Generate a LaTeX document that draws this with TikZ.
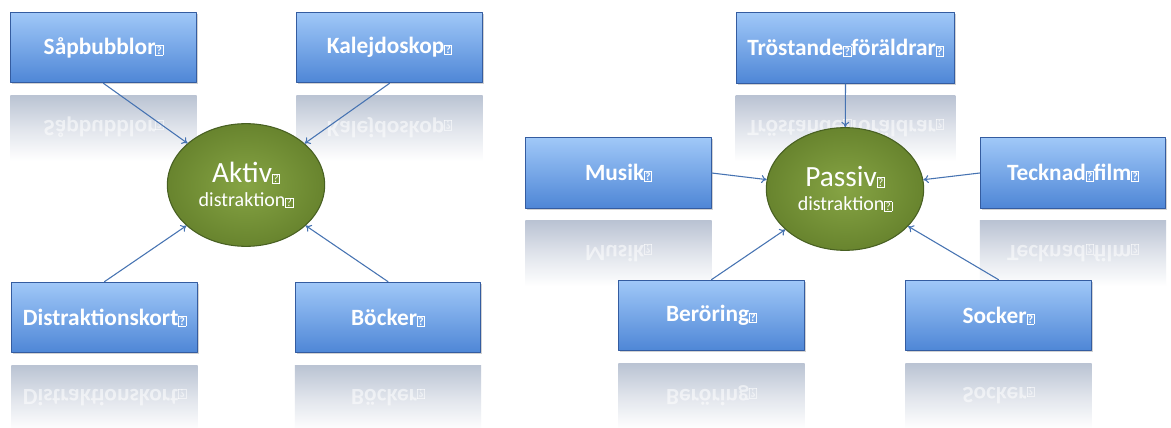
\documentclass[tikz,border=0pt]{standalone}
\usepackage{fontspec}
\setmainfont{Carlito}
\usetikzlibrary{shapes.geometric,arrows.meta,shadows,backgrounds}
\definecolor{boxtop}{RGB}{160,200,248}
\definecolor{boxbot}{RGB}{78,134,214}
\definecolor{boxline}{RGB}{52,92,160}
\definecolor{ovalin}{RGB}{134,164,68}
\definecolor{ovalout}{RGB}{104,132,46}
\definecolor{ovalline}{RGB}{72,96,34}
\definecolor{arrcol}{RGB}{70,115,178}
\definecolor{reflgray}{RGB}{186,195,211}
\newcommand{\qb}{{\fboxsep=0.5pt\fboxrule=0.45pt\fbox{\fontsize{8.5}{8.5}\selectfont ?}}}
\begin{document}
\begin{tikzpicture}[x=0.75pt, y=-0.75pt, font=\fontsize{17.5}{20}\selectfont\bfseries, line join=round, line cap=round,
	box/.style={draw=boxline, line width=0.8pt, top color=boxtop, bottom color=boxbot, text=white, minimum width=139pt, minimum height=53pt, drop shadow={opacity=0.35, shadow xshift=1.2pt, shadow yshift=-1.2pt}},
	oval/.style={ellipse, draw=ovalline, line width=0.8pt, inner color=ovalin, outer color=ovalout, text=white, align=center, minimum width=118pt, minimum height=92pt, inner sep=0pt, font=\mdseries},
	refl/.style={top color=reflgray, bottom color=white, middle color=reflgray!45!white, draw=none},
	mirror/.style={inner sep=0pt, opacity=0.55, font=\fontsize{17.5}{20}\selectfont\bfseries\color{white}},
	arr/.style={draw=arrcol, line width=0.8pt, -{To[length=4pt,width=6pt]}}]
	\useasboundingbox (0,0) rectangle (1171,428);
	% aktiv
	\node[box] (sap) at (103.5,47.5) {Såpbubblor\qb};
	\node[box] (kal) at (389.5,47.5) {Kalejdoskop\qb};
	\node[box] (dis) at (104.5,317.5) {Distraktionskort\qb};
	\node[box] (boc) at (388,317.5) {Böcker\qb};
	\node[oval] (akt) at (246,185) {{\fontsize{22}{24}\selectfont Aktiv\qb}\\[6pt]{\fontsize{15}{17}\selectfont distraktion\qb}};
	% passiv
	\node[box, minimum width=164pt] (tro) at (845.5,48) {Tröstande\qb föräldrar\qb};
	\node[box] (mus) at (618.5,173) {Musik\qb};
	\node[box] (tec) at (1073,173) {Tecknad\qb film\qb};
	\node[box] (ber) at (711.5,315.5) {Beröring\qb};
	\node[box] (soc) at (998.5,315.5) {Socker\qb};
	\node[oval] (pas) at (845,189) {{\fontsize{22}{24}\selectfont Passiv\qb}\\[6pt]{\fontsize{15}{17}\selectfont distraktion\qb}};
	\foreach \a/\b in {sap.south/akt,kal.south/akt,dis.north/akt,boc.north/akt,tro.south/pas,mus.east/pas,tec.west/pas,ber.north/pas,soc.north/pas}
	\draw[arr] (\a)--(\b);
	\begin{pgfonlayer}{background}
		\fill[white] (0,0) rectangle (1171,428);
		\foreach \b/\t in {sap/{Såpbubblor\qb},kal/{Kalejdoskop\qb},dis/{Distraktionskort\qb},boc/{Böcker\qb},tro/{Tröstande\qb föräldrar\qb},mus/{Musik\qb},tec/{Tecknad\qb film\qb},ber/{Beröring\qb},soc/{Socker\qb}}{
			\shade[refl] ([yshift=-9pt]\b.south west) rectangle ([yshift=-58pt]\b.south east);
			\node[mirror] at ([yshift=-60pt]\b.center) {\scalebox{1}[-1]{\t}};
		}
	\end{pgfonlayer}
\end{tikzpicture}
\end{document}
